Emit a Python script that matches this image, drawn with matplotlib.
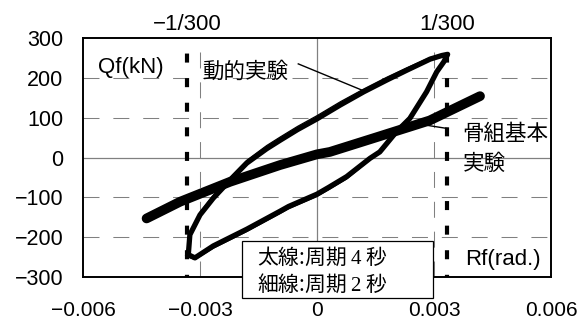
import matplotlib.pyplot as plt
from matplotlib.patches import Rectangle

# skeleton (frame) test - thick band
skel_r = [-0.00437, -0.00351, -0.00223, -0.00095, 0.0, 0.00033, 0.00150, 0.00289, 0.00418]
skel_q = [-153, -111, -61, -19, 8, 14, 50, 93, 154]

# dynamic test, period 4 s (thick line)
loop4_r = [-0.00330, -0.00326, -0.00300, -0.00266, -0.00223, -0.00180, -0.00129, -0.00095, -0.00050,
           0.0, 0.00060, 0.00120, 0.00180, 0.00230, 0.00290, 0.00320, 0.00335,
           0.00325, 0.00307, 0.00281, 0.00238, 0.00204, 0.00161, 0.00136, 0.00076, 0.00030,
           0.0, -0.00073, -0.00095, -0.00180, -0.00266, -0.00313, -0.00330]
loop4_q = [-244, -194, -144, -102, -57, -14, 22, 43, 70,
           97, 132, 165, 195, 219, 247, 256, 259,
           240, 215, 165, 98, 65, 14, -2, -48, -75,
           -92, -123, -135, -180, -222, -252, -244]

# dynamic test, period 2 s (thin line)
loop2_r = loop4_r
loop2_q = [-250, -190, -138, -95, -50, -7, 30, 51, 78,
           105, 140, 172, 202, 225, 251, 258, 259,
           244, 220, 170, 103, 68, 14, -6, -54, -81,
           -98, -129, -141, -186, -228, -256, -250]

drift_limit = 1 / 300
x_ticks = [-0.006, -0.003, 0, 0.003, 0.006]
x_labels = ["\u22120.006", "\u22120.003", "0", "0.003", "0.006"]
y_ticks = [-300, -200, -100, 0, 100, 200, 300]
y_labels = ["\u2212300", "\u2212200", "\u2212100", "0", "100", "200", "300"]

plt.rcParams['lines.scale_dashes'] = False
plt.rcParams['mathtext.fontset'] = 'custom'
plt.rcParams['mathtext.rm'] = 'Liberation Serif'
latin = ['Liberation Sans', 'DejaVu Sans']
jp = ['Noto Sans CJK JP', 'DejaVu Sans']

fig = plt.figure(figsize=(5.86, 3.24), dpi=100)
ax = fig.add_axes([83 / 586, 1 - 277 / 324, 468 / 586, 239 / 324])
ax.set_xlim(-0.006, 0.006)
ax.set_ylim(-300, 300)

# grid
grey = '#808080'
for y in [-200, -100, 100, 200]:
    ax.axhline(y, color=grey, lw=0.75, dashes=(11.5, 10), zorder=1)
for x in [-0.003, 0.003]:
    ax.axvline(x, color=grey, lw=0.75, dashes=(11.5, 10), zorder=1)
ax.axhline(0, color=grey, lw=0.9, zorder=1)
ax.axvline(0, color=grey, lw=0.9, zorder=1)

# +-1/300 rad drift lines
for x in [-drift_limit, drift_limit]:
    ax.plot([x, x], [300, -300], color='black', lw=3, ls=(6.5, (6.5, 11.2)),
            solid_capstyle='butt', zorder=2)

ax.plot(skel_r, skel_q, color='black', lw=7, solid_capstyle='round',
        solid_joinstyle='round', zorder=3)
ax.plot(loop4_r, loop4_q, color='black', lw=3.8, solid_joinstyle='round', zorder=4)
ax.plot(loop2_r, loop2_q, color='black', lw=0.9, solid_joinstyle='round', zorder=4)

# labels and leaders
ax.text(-0.00295, 214, "動的実験", family=jp, fontsize=15.5, va='center', ha='left', zorder=5)
ax.plot([-0.00048, 0.00123], [235, 166], color='black', lw=1, zorder=5)
ax.text(0.00373, 58, "骨組基本", family=jp, fontsize=15.5, va='center', ha='left', zorder=5)
ax.text(0.00373, -16, "実験", family=jp, fontsize=15.5, va='center', ha='left', zorder=5)
ax.plot([0.00281, 0.00333], [81, 73], color='black', lw=1, zorder=5)
ax.text(-0.00562, 225, "Qf(kN)", family=latin, fontsize=16, va='center', ha='left', zorder=5)
ax.text(0.0038, -257, "Rf(rad.)", family=latin, fontsize=16, va='center', ha='left', zorder=5)

top_y = (277 - 25) / 239
ax.text(-drift_limit, top_y, "\u22121/300", family=latin, fontsize=16, ha='center', va='center',
        transform=ax.get_xaxis_transform())
ax.text(drift_limit, top_y, "1/300", family=latin, fontsize=16, ha='center', va='center',
        transform=ax.get_xaxis_transform())

# period note box
box = Rectangle((0.340, -0.088), 0.408, 0.239, transform=ax.transAxes, facecolor='white',
                edgecolor='black', lw=0.9, clip_on=False, zorder=6)
ax.add_patch(box)
ax.text(0.372, 0.085, r"太線:周期 $\mathrm{4}$ 秒", family=jp, fontsize=15, va='center',
        transform=ax.transAxes, zorder=7)
ax.text(0.372, -0.029, r"細線:周期 $\mathrm{2}$ 秒", family=jp, fontsize=15, va='center',
        transform=ax.transAxes, zorder=7)

ax.set_xticks(x_ticks)
ax.set_xticklabels(x_labels, family=latin, fontsize=15)
ax.set_yticks(y_ticks)
ax.set_yticklabels(y_labels, family=latin, fontsize=15.5)
ax.tick_params(axis='x', length=0, pad=17)
ax.tick_params(axis='y', length=0, pad=14)
for s in ax.spines.values():
    s.set_linewidth(1.4)
    s.set_zorder(5)

fig.savefig('out.png', dpi=100)
